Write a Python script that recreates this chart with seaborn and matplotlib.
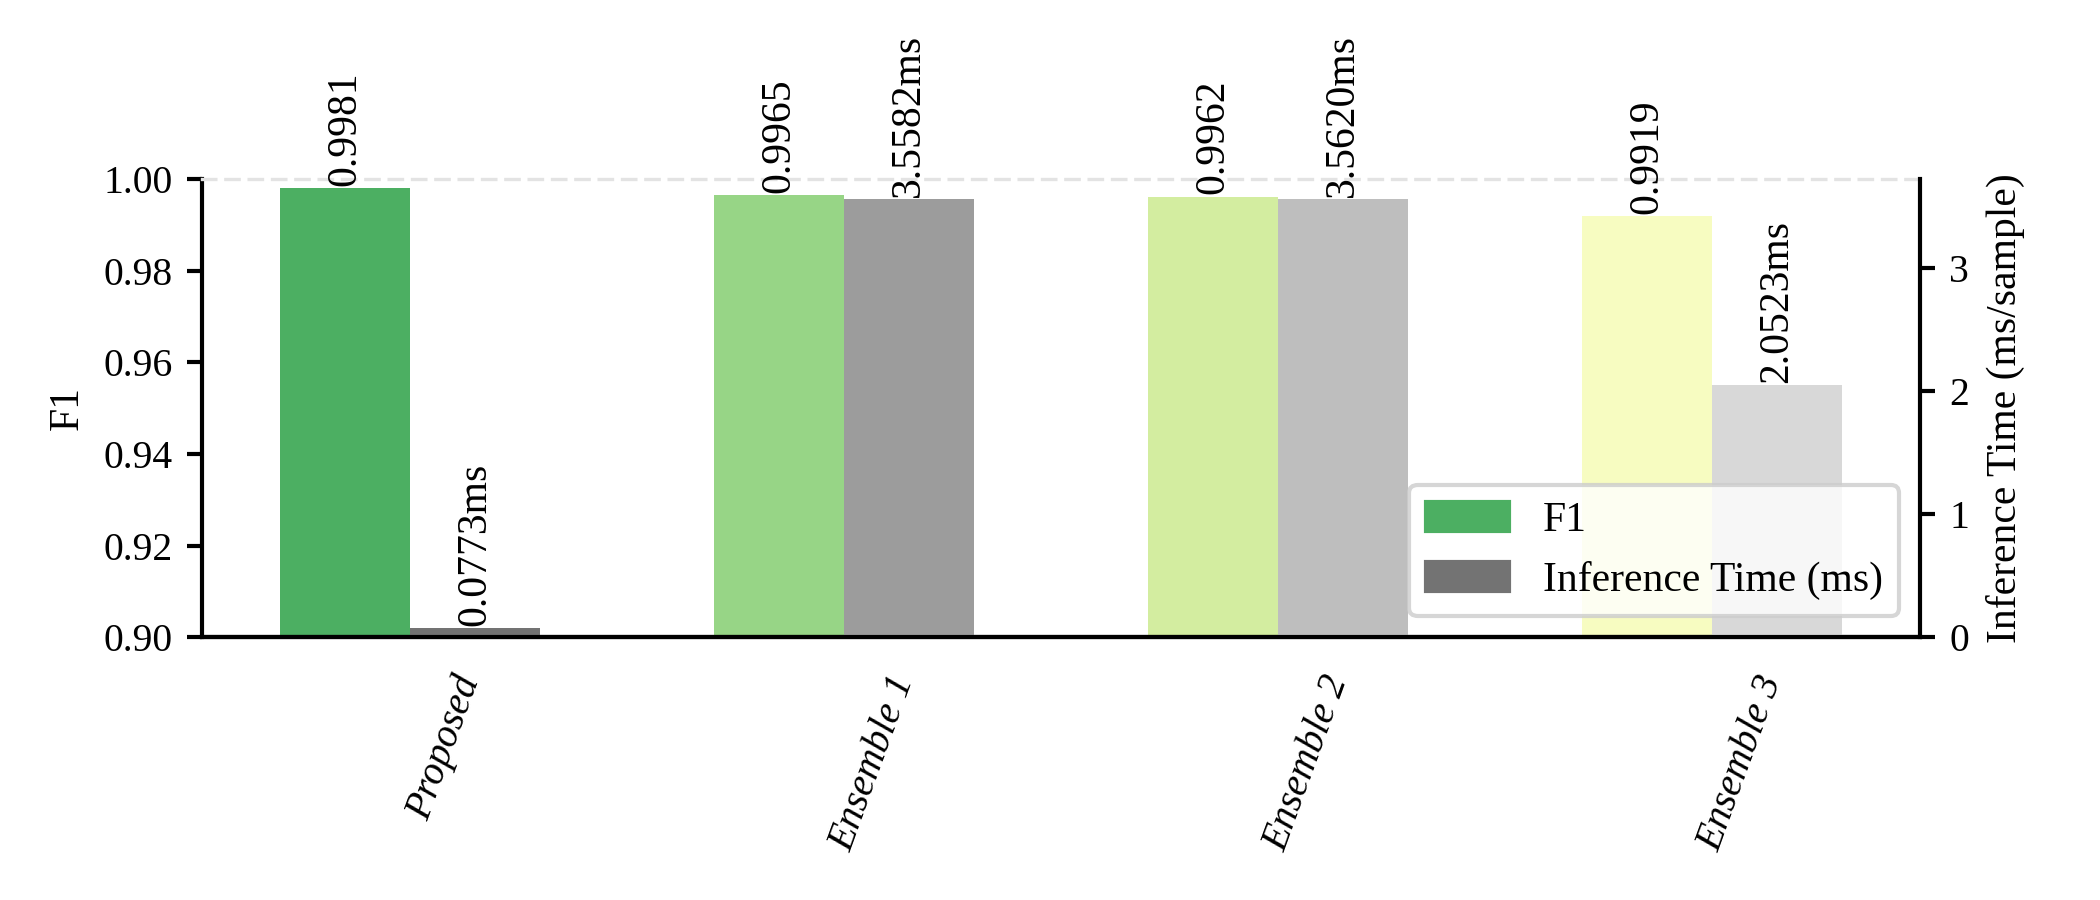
#F1 vs inference time bar chart (twin axes)

import numpy as np
import matplotlib
matplotlib.use("Agg")
import matplotlib.pyplot as plt
import matplotlib.transforms as mtransforms
import seaborn as sns
from matplotlib.patches import Patch

# data
models = ["Proposed", "Ensemble 1", "Ensemble 2", "Ensemble 3"]
f1 = [0.9981, 0.9965, 0.9962, 0.9919]
inf_time = [0.0773, 3.5582, 3.5620, 2.0523]

f1_colors = ["#4caf62", "#97d586", "#d3eda0", "#f7fcc1"]
time_colors = ["#737373", "#9c9c9c", "#bebebe", "#d8d8d8"]

sns.set_style("ticks")
plt.rcParams["font.family"] = ["Liberation Serif", "DejaVu Serif"]
plt.rcParams["axes.linewidth"] = 1.0
for k in ["text.color", "axes.labelcolor", "xtick.color", "ytick.color", "axes.edgecolor"]:
    plt.rcParams[k] = "black"

width = 0.3
x = np.arange(len(models))

fig, ax = plt.subplots(figsize=(7, 3), dpi=300)
fig.subplots_adjust(left=0.0962, right=0.9143, bottom=0.292, top=0.801)
ax2 = ax.twinx()

sns.barplot(x=x - width / 2, y=f1, hue=models, palette=dict(zip(models, f1_colors)),
            native_scale=True, width=width, dodge=False, saturation=1,
            linewidth=0, legend=False, ax=ax)
sns.barplot(x=x + width / 2, y=inf_time, hue=models, palette=dict(zip(models, time_colors)),
            native_scale=True, width=width, dodge=False, saturation=1,
            linewidth=0, legend=False, ax=ax2)

# value labels
for i in range(len(models)):
    ax.annotate(f"{f1[i]:.4f}", (x[i] - width / 2, f1[i]), xytext=(0, 0.5),
                textcoords="offset points", rotation=90, ha="center", va="bottom", fontsize=10)
    ax2.annotate(f"{inf_time[i]:.4f}ms", (x[i] + width / 2, inf_time[i]), xytext=(0, 0.5),
                 textcoords="offset points", rotation=90, ha="center", va="bottom", fontsize=10)

ax.set_xlim(-0.48, len(models) - 1 + 0.48)
ax.set_ylim(0.90, 1.00)
ax.set_yticks(np.arange(0.90, 1.001, 0.02))
ax.set_yticklabels([f"{t:.2f}" for t in np.arange(0.90, 1.001, 0.02)])
ax2.set_ylim(0, max(inf_time) * 1.045)
ax2.set_yticks([0, 1, 2, 3])

ax.set_xticks(x + width / 2)
ax.set_xticklabels(models, rotation=70, ha="right", fontstyle="italic", fontsize=9.5)
ax.tick_params(axis="x", length=0, pad=8)
shift = mtransforms.ScaledTranslation(3 / 72, 0, fig.dpi_scale_trans)
for lbl in ax.get_xticklabels():
    lbl.set_transform(lbl.get_transform() + shift)
ax.tick_params(axis="y", labelsize=9.5, width=1.0)
ax2.tick_params(axis="y", labelsize=9.5, width=1.0)

ax.set_xlabel("")
ax.set_ylabel("F1", fontsize=10)
ax2.set_ylabel("Inference Time (ms/sample)", fontsize=10)

ax.spines["top"].set_linestyle((0, (4, 3)))
ax.spines["top"].set_color("#e3e3e3")
ax.spines["top"].set_linewidth(0.8)
ax.spines["right"].set_visible(False)
ax2.spines["top"].set_visible(False)
ax2.spines["left"].set_visible(False)

handles = [Patch(color=f1_colors[0], label="F1"),
           Patch(color=time_colors[0], label="Inference Time (ms)")]
ax2.legend(handles=handles, loc="lower right", fontsize=10)

plt.savefig("out.png", dpi=300)
